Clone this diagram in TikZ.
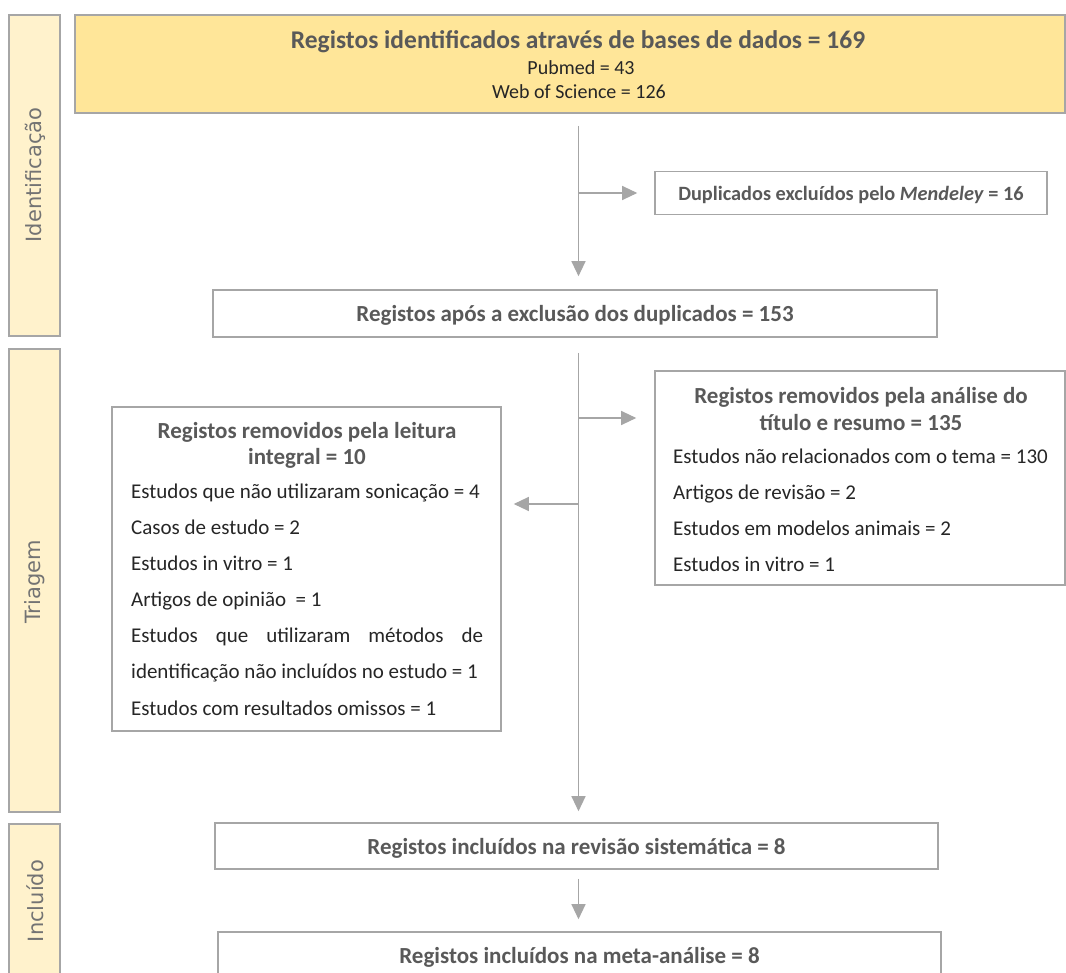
\documentclass[tikz,border=0pt]{standalone}
\usepackage{fontspec}
\setmainfont{Carlito}
\newfontfamily\sidefont{DejaVu Sans}
\usetikzlibrary{arrows.meta}
\definecolor{boxgray}{HTML}{A6A6A6}
\definecolor{ttlgray}{HTML}{595959}
\definecolor{txtdark}{HTML}{262626}
\definecolor{sidefill}{HTML}{FFF2CC}
\definecolor{topfill}{HTML}{FFE699}
\definecolor{sidetxt}{HTML}{737373}
\begin{document}
\begin{tikzpicture}[x=1pt,y=-1pt,
  box/.style={draw=boxgray,line width=1.6pt,rectangle,inner sep=0pt,fill=white},
  sidebar/.style={box,fill=sidefill},
  boxtext/.style={box,text=ttlgray,text depth=0pt,font=\bfseries\fontsize{23}{27}\selectfont},
  sidelabel/.style={text=sidetxt,font=\sidefont\fontsize{21}{21}\selectfont,rotate=90,inner sep=0pt},
  ttl/.style={text=ttlgray,font=\bfseries\fontsize{23}{27}\selectfont,inner sep=0pt,anchor=mid,yshift=-5.5pt},
  itm/.style={text=txtdark,font=\fontsize{21}{25}\selectfont,inner sep=0pt,anchor=mid west,yshift=-5pt},
  arr/.style={draw=boxgray,line width=1.2pt,-{Triangle[length=15pt,width=14pt]}},
]
\useasboundingbox (0,0) rectangle (1066,973);
\clip (0,0) rectangle (1066,973);
\fill[white] (0,0) rectangle (1066,973);

% side bars
\node[sidebar,minimum width=51pt,minimum height=321pt] (sb1) at (34.5,175.5) {};
\node[sidelabel] (sl1) at (35,175) {Identificação};
\node[sidebar,minimum width=51pt,minimum height=463pt] (sb2) at (34.5,580.5) {};
\node[sidelabel] (sl2) at (35,582) {Triagem};
\node[sidebar,minimum width=51pt,minimum height=170pt] (sb3) at (34.5,909) {};
\node[sidelabel] (sl3) at (35,901) {Incluído};

% top box
\node[box,fill=topfill,minimum width=990pt,minimum height=98pt] (top) at (570,64) {};
\node[ttl,font=\bfseries\fontsize{25.5}{29}\selectfont,yshift=-0.5pt] (t1) at (578,40) {Registos identificados através de bases de dados = 169};
\node[itm,anchor=mid,font=\fontsize{20}{24}\selectfont] (t2) at (581,67) {Pubmed = 43};
\node[itm,anchor=mid,font=\fontsize{20}{24}\selectfont] (t3) at (579,91) {Web of Science = 126};

% duplicates
\node[boxtext,minimum width=392pt,minimum height=43pt,font=\bfseries\fontsize{20.3}{24}\selectfont] (dup) at (851,193) {Duplicados excluídos pelo \textit{Mendeley} = 16};

% after duplicates
\node[boxtext,minimum width=724pt,minimum height=47pt] (after) at (575,313.5) {Registos após a exclusão dos duplicados = 153};

% right box
\node[box,minimum width=410pt,minimum height=214pt] (rbox) at (860,478) {};
\node[ttl] (r1) at (861,396) {Registos removidos pela análise do};
\node[ttl] (r2) at (861,423) {título e resumo = 135};
\node[itm] (r3) at (673,456) {Estudos não relacionados com o tema = 130};
\node[itm] (r4) at (673,492) {Artigos de revisão = 2};
\node[itm] (r5) at (673,528) {Estudos em modelos animais = 2};
\node[itm] (r6) at (673,564) {Estudos in vitro = 1};

% left box
\node[box,minimum width=389pt,minimum height=324pt] (lbox) at (306.5,569) {};
\node[ttl] (l1) at (307,431) {Registos removidos pela leitura};
\node[ttl] (l2) at (307,457) {integral = 10};
\node[itm] (l3) at (131,491) {Estudos que não utilizaram sonicação = 4};
\node[itm] (l4) at (131,527) {Casos de estudo = 2};
\node[itm] (l5) at (131,563) {Estudos in vitro = 1};
\node[itm] (l6) at (131,599) {Artigos de opinião~ = 1};
\node[itm] (l7) at (131,635) {\makebox[352pt][s]{Estudos que utilizaram métodos de}};
\node[itm] (l8) at (131,671) {identificação não incluídos no estudo = 1};
\node[itm] (l9) at (131,708) {Estudos com resultados omissos = 1};

% included
\node[boxtext,minimum width=723pt,minimum height=46pt] (rev) at (576.5,846) {Registos incluídos na revisão sistemática = 8};
\node[boxtext,minimum width=723pt,minimum height=46pt] (meta) at (579.5,955) {Registos incluídos na meta-análise = 8};

% connectors
\coordinate (spine) at (578.5,0);
\draw[arr,shorten <=12pt,shorten >=13pt] (spine |- top.south) -- (spine |- after.north);
\coordinate (b1) at (spine |- dup.west);
\draw[arr,shorten >=17pt] (b1) -- (dup.west);
\draw[arr,shorten <=15pt,shorten >=11pt] (spine |- after.south) -- (spine |- rev.north);
\coordinate (b2) at (578.5,418);
\draw[arr,shorten >=18pt] (b2) -- (b2 -| rbox.west);
\coordinate (b3) at (578.5,504);
\draw[arr,shorten >=12pt] (b3) -- (b3 -| lbox.east);
\draw[arr,shorten <=9pt,shorten >=12pt] (spine |- rev.south) -- (spine |- meta.north);
\end{tikzpicture}
\end{document}
